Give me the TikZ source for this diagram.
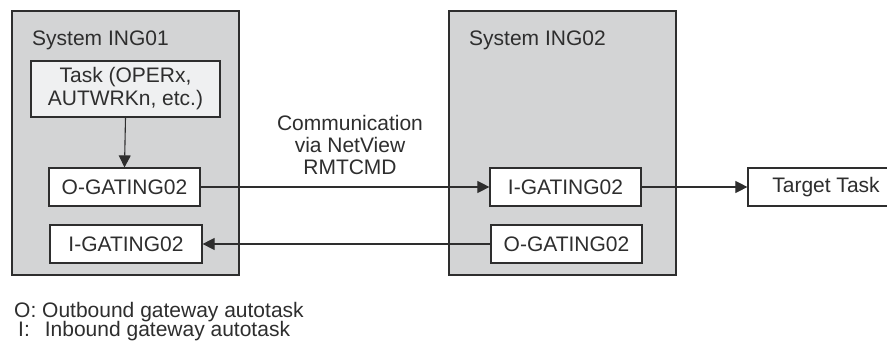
\documentclass[tikz,border=0pt]{standalone}
\usepackage{fontspec}
\setmainfont{Liberation Sans}
\usetikzlibrary{arrows.meta}
\definecolor{sysgray}{HTML}{D3D4D5}
\definecolor{taskfill}{HTML}{EFF0F1}
\definecolor{edge}{HTML}{2E2E2E}
\begin{document}
\begin{tikzpicture}[x=1pt,y=-1pt,
  every node/.style={font=\fontsize{21}{23}\selectfont, text=edge},
  sysbox/.style={draw=edge, line width=1.2pt, fill=sysgray, minimum width=227pt, minimum height=264pt, inner sep=0pt},
  gatebox/.style={draw=edge, line width=1.2pt, fill=white, minimum width=151pt, minimum height=38pt, inner sep=0pt},
  taskbox/.style={draw=edge, line width=1.2pt, fill=taskfill, minimum width=189pt, minimum height=56pt, inner sep=0pt, align=center},
  flow/.style={draw=edge, line width=1.1pt, -{Triangle[length=12pt,width=12pt]}},
  plain/.style={inner sep=0pt}
]
\useasboundingbox[fill=white] (0,0) rectangle (887,344);

% the two systems
\node[sysbox] (sys1) at (125.5,143) {};
\node[sysbox] (sys2) at (562.5,143) {};
\node[plain, anchor=base west] (sys1lbl) at (32,46) {System ING01};
\node[plain, anchor=base west] (sys2lbl) at (469,46) {System ING02};

% tasks and gateway autotasks in ING01
\node[taskbox] (task) at (125.5,89) {Task (OPERx,\\AUTWRKn, etc.)};
\node[gatebox] (ogate1) at (124.5,187) {O-GATING02};
\node[gatebox, minimum width=152pt] (igate1) at (126,244) {I-GATING02};

% gateway autotasks in ING02
\node[gatebox] (igate2) at (565.5,187) {I-GATING02};
\node[gatebox] (ogate2) at (566.5,244) {O-GATING02};

% target task, running off the right edge
\node[gatebox, minimum width=156pt] (target) at (826,187) {Target Task};

% communication label
\node[plain, align=center, font=\fontsize{21}{22}\selectfont] (comm) at (350,145) {Communication\\via NetView\\RMTCMD};

% connectors
\draw[flow] (task.south) -- (ogate1.north);
\draw[flow] (ogate1.east) -- (igate2.west);
\draw[flow] (igate2.east) -- (target.west);
\draw[flow] (ogate2.west) -- (igate1.east);

% legend
\node[plain, anchor=base west] (legO) at (14,318) {O: Outbound gateway autotask};
\node[plain, anchor=base west] (legI) at (18,337) {I:\hspace{15pt}Inbound gateway autotask};
\end{tikzpicture}
\end{document}
